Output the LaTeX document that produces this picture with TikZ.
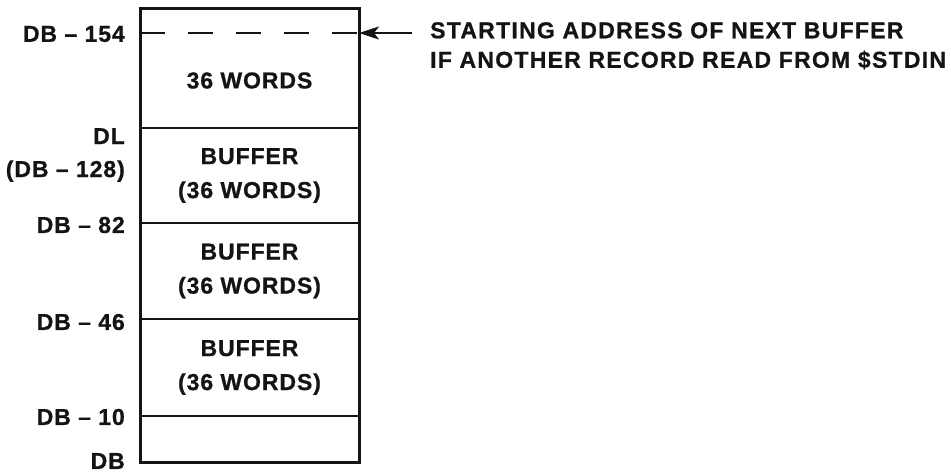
\documentclass[tikz,border=0pt]{standalone}
\usepackage{fontspec}
\setmainfont{Liberation Sans}[LetterSpace=4, BoldFeatures={FakeBold=0.8}]
\usepackage{xcolor}
\usetikzlibrary{arrows.meta,positioning,calc}
\definecolor{ink}{HTML}{141414}
\tikzset{
  cellbox/.style={
    rectangle, draw=none, minimum width=219pt, minimum height=#1,
    inner sep=0pt, outer sep=0pt, text=ink,
    font=\bfseries\fontsize{23}{34}\selectfont, align=center
  },
  cellbox/.default=95pt,
  addrlabel/.style={
    anchor=east, inner sep=0pt, text=ink, yshift=-1pt,
    font=\bfseries\fontsize{23}{33}\selectfont, align=right
  },
  notetext/.style={
    anchor=north west, inner sep=0pt, text=ink, align=left,
    font=\bfseries\fontsize{23}{29.5}\selectfont\addfontfeatures{LetterSpace=5.5}
  },
  frameline/.style={draw=ink, line width=3pt, line join=miter},
  divline/.style={draw=ink, line width=2.4pt},
  pointer/.style={
    -{Stealth[length=20pt,width=13pt,inset=5pt]}, draw=ink, fill=ink, line width=2.2pt
  },
}
\begin{document}
\begin{tikzpicture}[x=1pt, y=-1pt]
\useasboundingbox (0,0) rectangle (951,472);

% memory cells, top to bottom
\node[cellbox=25pt] (head) at (249.5,20.5) {};
\node[cellbox=95pt, below=0pt of head] (words) {36 WORDS};
\node[cellbox=95pt, below=0pt of words] (buf1) {BUFFER\\(36 WORDS)};
\node[cellbox=96pt, below=0pt of buf1] (buf2) {BUFFER\\(36 WORDS)};
\node[cellbox=97pt, below=0pt of buf2] (buf3) {BUFFER\\(36 WORDS)};
\node[cellbox=46pt, below=0pt of buf3] (foot) {};

\draw[frameline] (head.north west) rectangle (foot.south east);
\foreach \cell in {buf1,buf2,buf3,foot}
  \draw[divline] (\cell.north west) -- (\cell.north east);
\draw[divline, dash pattern=on 25pt off 23pt] (words.north west) -- (words.north east);

% addresses
\node[addrlabel, left=15pt of words.north west] (a154) {DB -- 154};
\node[addrlabel, left=15pt of buf1.north west, anchor=north east, yshift=1pt] (adl) {DL\\(DB -- 128)};
\node[addrlabel, left=15pt of buf2.north west, yshift=-1pt] (a82) {DB -- 82};
\node[addrlabel, left=15pt of buf3.north west, yshift=-2pt] (a46) {DB -- 46};
\node[addrlabel, left=15pt of foot.north west] (a10) {DB -- 10};
\node[addrlabel, left=15pt of foot.south west, yshift=2pt] (adb) {DB};

% note
\node[notetext, right=71pt of words.north east, anchor=north west, yshift=11pt] (note)
  {STARTING ADDRESS OF NEXT BUFFER\\IF ANOTHER RECORD READ FROM \$STDIN};
\draw[pointer, shorten <=18pt] (words.north east -| note.west) -- (words.north east);
\end{tikzpicture}
\end{document}
